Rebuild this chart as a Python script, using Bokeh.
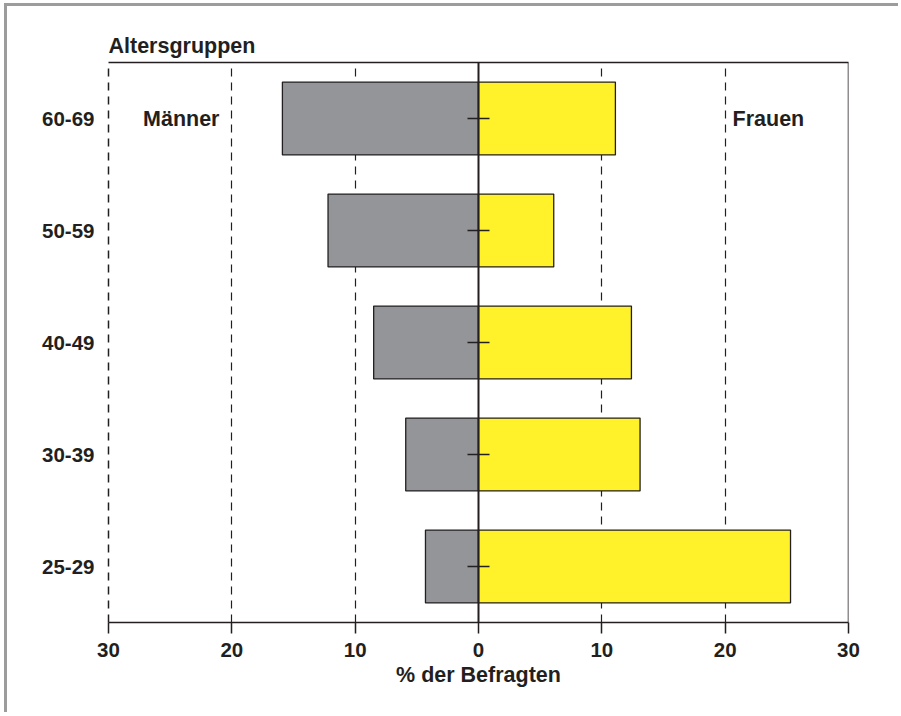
from bokeh.plotting import figure
from bokeh.models import Range1d, FactorRange, FixedTicker, LinearAxis
from bokeh.models import Span
from bokeh.core.properties import value
from bokeh.embed import file_html
from bokeh.resources import INLINE

# ---- data ----
age_groups = ["25-29", "30-39", "40-49", "50-59", "60-69"]
men = [4.3, 5.9, 8.5, 12.2, 15.9]
women = [25.3, 13.1, 12.4, 6.1, 11.1]
x_ticks = [-30, -20, -10, 0, 10, 20, 30]
x_tick_labels = ["30", "20", "10", "0", "10", "20", "30"]
grid_ticks = [-30, -20, -10, 10, 20, 30]

FONT = "Liberation Sans"
INK = "#231f20"
GRAY = "#939598"
YELLOW = "#fff12a"
BIG = "21.5px"
TICK = "20.5px"

p = figure(width=894, height=709,
           x_range=Range1d(-30, 30), y_range=FactorRange(*age_groups),
           output_backend="svg", toolbar_location=None,
           min_border_left=101, min_border_right=53,
           min_border_top=56, min_border_bottom=93,
           title="Altersgruppen")
p.styles = {"border-left": "3px solid #9c9c9c", "border-top": "3px solid #9c9c9c",
            "margin-left": "4px", "margin-top": "3px"}
p.outline_line_color = None
p.background_fill_color = "white"
p.border_fill_color = "white"

p.title.text_font = FONT
p.title.text_font_size = BIG
p.title.text_font_style = "bold"
p.title.text_color = INK
p.title.align = "left"
p.title.standoff = 10

# grid
p.ygrid.grid_line_color = None
p.xgrid.ticker = FixedTicker(ticks=grid_ticks)
p.xgrid.grid_line_color = INK
p.xgrid.grid_line_dash = "8 6"
p.xgrid.grid_line_width = 1.2

# bars
men_left = [-m for m in men]
p.hbar(y=age_groups, left=men_left, right=0, height=0.65,
       fill_color=GRAY, line_color=INK, line_width=1.3)
p.hbar(y=age_groups, left=0, right=women, height=0.65,
       fill_color=YELLOW, line_color=INK, line_width=1.3)

# centre line and its small ticks
p.add_layout(Span(location=0, dimension="height", line_color=INK, line_width=2))
p.scatter(x=[0] * len(age_groups), y=age_groups, marker="dash", size=22,
          line_color=INK, line_width=1.5)

# labels Männer / Frauen
p.text(x=[-27.2], y=["60-69"], text=["Männer"], text_font=value(FONT),
       text_font_style="bold", text_font_size=BIG, text_color=INK,
       text_align="left", text_baseline="middle")
p.text(x=[20.6], y=["60-69"], text=["Frauen"], text_font=value(FONT),
       text_font_style="bold", text_font_size=BIG, text_color=INK,
       text_align="left", text_baseline="middle")

# x axis
xa = p.xaxis[0]
xa.ticker = FixedTicker(ticks=x_ticks)
xa.major_label_overrides = dict(zip(x_ticks, x_tick_labels))
xa.axis_label = "% der Befragten"
xa.axis_label_text_font = FONT
xa.axis_label_text_font_style = "bold"
xa.axis_label_text_font_size = BIG
xa.axis_label_text_color = INK
xa.axis_label_standoff = 3
xa.major_label_text_font = FONT
xa.major_label_text_font_style = "bold"
xa.major_label_text_font_size = TICK
xa.major_label_text_color = INK
xa.major_label_standoff = 9
xa.major_tick_in = 0
xa.major_tick_out = 11
xa.major_tick_line_color = INK
xa.major_tick_line_width = 1.5
xa.minor_tick_line_color = None
xa.axis_line_color = INK
xa.axis_line_width = 1.5

# y axis
ya = p.yaxis[0]
ya.major_label_text_font = FONT
ya.major_label_text_font_style = "bold"
ya.major_label_text_font_size = TICK
ya.major_label_text_color = INK
ya.major_label_standoff = 8
ya.major_tick_line_color = None
ya.axis_line_color = INK
ya.axis_line_width = 1.5
ya.axis_line_dash = "8 6"

# top and right frame edges
top = LinearAxis(ticker=FixedTicker(ticks=[]), major_tick_line_color=None,
                 minor_tick_line_color=None, axis_line_color=INK, axis_line_width=1.5)
p.add_layout(top, "above")
p.add_layout(Span(location=30, dimension="height", line_color=INK, line_width=1.5))

open("out.html", "w").write(file_html(p, INLINE))
